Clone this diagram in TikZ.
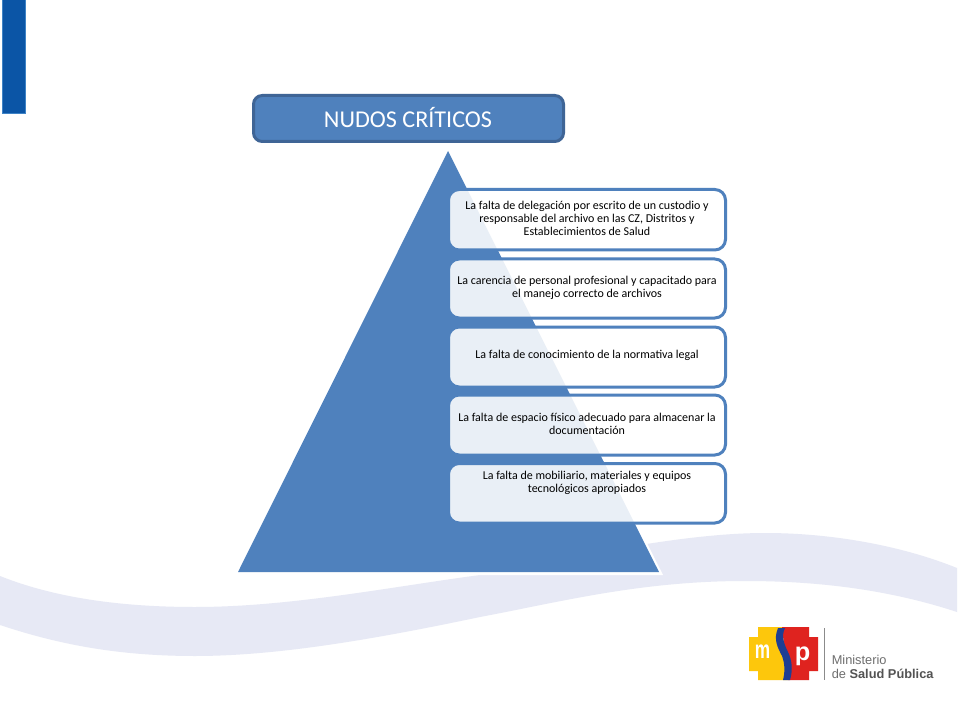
\documentclass[tikz,border=0pt]{standalone}
\usepackage{fontspec}
\setmainfont{Carlito}
\newfontfamily\logofont{Liberation Sans}
\definecolor{tri}{HTML}{4F81BD}
\definecolor{titleedge}{HTML}{3F6596}
\definecolor{wave}{HTML}{E7E9F5}
\definecolor{bar}{HTML}{0B55A6}
\definecolor{baredge}{HTML}{3E83C6}
\definecolor{logoY}{HTML}{FDC70C}
\definecolor{logoR}{HTML}{DF231F}
\definecolor{logoB}{HTML}{1E3E93}
\definecolor{logoG}{HTML}{6E6E6E}
\tikzset{
  x=0.75pt,y=-0.75pt,
  itembox/.style={draw=tri,line width=2.25pt,fill=white,fill opacity=.88,rounded corners=8pt,
    minimum width=277*.75pt,inner sep=0pt},
  itemtext/.style={align=center,font=\fontsize{9pt}{9.75pt}\selectfont,text=black,inner sep=0pt},
  titlebox/.style={draw=titleedge,line width=2.25pt,fill=tri,rounded corners=6.5pt,
    minimum width=310*.75pt,minimum height=46*.75pt,inner sep=0pt},
  titletext/.style={text=white,inner sep=0pt,font=\fontsize{18.1pt}{20pt}\selectfont},
  logoletter/.style={text=white,font=\logofont\bfseries\fontsize{19pt}{19pt}\selectfont,
    inner sep=0pt,transform shape},
  logotext/.style={text=logoG,anchor=base west,inner sep=0pt,
    font=\logofont\fontsize{9.6pt}{11pt}\selectfont},
}
\begin{document}
\begin{tikzpicture}
\useasboundingbox (0,0) rectangle (960,720);
\fill[white] (0,0) rectangle (960,720);
% wave
\fill[wave] (0,576) .. controls (60,600) and (130,607) .. (195,607)
  .. controls (290,607) and (390,587) .. (480,575)
  .. controls (570,558) and (680,533) .. (765,533)
  .. controls (830,533) and (900,545) .. (957,568)
  -- (957,612) .. controls (890,590) and (820,581) .. (745,581)
  .. controls (640,581) and (560,602) .. (480,617)
  .. controls (380,638) and (280,656) .. (195,656)
  .. controls (120,656) and (60,645) .. (0,625) -- cycle;
% corner bar
\draw[fill=bar,draw=baredge,line width=.75pt] (2.5,-1) rectangle (25.5,113.5);
% pyramid
\fill[white] (452,154) -- (663,575) -- (241,575) -- cycle;
\fill[tri] (448,151) -- (659,572) -- (238,572) -- cycle;
% title
\node[titlebox] (title) at (408.5,118.5) {};
\node[titletext] (titlet) at (408,118) {NUDOS CRÍTICOS};
% items
\node[itembox,minimum height=60.5*.75pt] (b1) at (587,219.75) {};
\node[itembox,minimum height=59*.75pt] (b2) at (587,288.5) {};
\node[itembox,minimum height=60*.75pt] (b3) at (587,357) {};
\node[itembox,minimum height=60*.75pt] (b4) at (587,425) {};
\node[itembox,minimum height=59.5*.75pt] (b5) at (587,493.25) {};
\node[itemtext] (t1) at (587,218) {La falta de delegación por escrito de un custodio y\\responsable del archivo en las CZ, Distritos y\\Establecimientos de Salud};
\node[itemtext] (t2) at (587,287.5) {La carencia de personal profesional y capacitado para\\el manejo correcto de archivos};
\node[itemtext] (t3) at (587,355.5) {La falta de conocimiento de la normativa legal};
\node[itemtext] (t4) at (587,423.5) {La falta de espacio físico adecuado para almacenar la\\documentación};
\node[itemtext] (t5) at (587,482.5) {La falta de mobiliario, materiales y equipos\\tecnológicos apropiados};
% logo
\fill[logoY] (758,627) -- (782,627) -- (788,680) -- (758,680) -- (758,671) -- (749,671)
  -- (749,637) -- (758,637) -- cycle;
\fill[logoR] (782,627) -- (809,627) -- (809,637) -- (818,637) -- (818,671) -- (809,671)
  -- (809,680) -- (788,680) -- cycle;
\fill[logoB] (778,628) .. controls (773,640) and (778,648) .. (782,656)
  .. controls (785,664) and (785,672) .. (783,680) -- (790,680)
  .. controls (793,670) and (792,660) .. (788,652)
  .. controls (784,644) and (781,636) .. (785,628) -- cycle;
\node[logoletter,xscale=.68] (m) at (762.5,652) {m};
\node[logoletter] (p) at (802.5,656) {p};
\fill[logoG!80] (823.5,628) rectangle (825,680);
\node[logotext] (min) at (831.5,664.5) {Ministerio};
\node[logotext] (sal) at (831.5,678.5) {de \textcolor{logoG!75!black}{\textbf{Salud Pública}}};
\end{tikzpicture}
\end{document}
